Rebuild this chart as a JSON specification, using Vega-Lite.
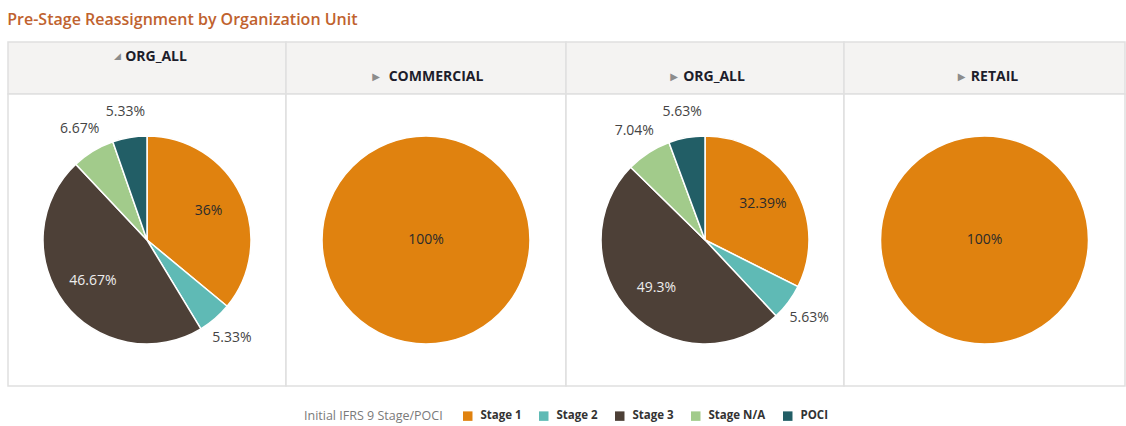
{
  "$schema": "https://vega.github.io/schema/vega-lite/v6.json",
  "padding": {"left": 7, "top": 12, "right": 0, "bottom": 0},
  "bounds": "flush",
  "background": "white",
  "title": {"text": "Pre-Stage Reassignment by Organization Unit", "anchor": "start", "font": "Open Sans", "fontSize": 16, "fontWeight": 600, "color": "#c0622e", "offset": 13},
  "datasets": {
    "pies": [
      {"panel": "p1", "stage": "Stage 1", "ord": 1, "share": 0.36},
      {"panel": "p1", "stage": "Stage 2", "ord": 2, "share": 0.0533},
      {"panel": "p1", "stage": "Stage 3", "ord": 3, "share": 0.4667},
      {"panel": "p1", "stage": "Stage N/A", "ord": 4, "share": 0.0667},
      {"panel": "p1", "stage": "POCI", "ord": 5, "share": 0.0533},
      {"panel": "p2", "stage": "Stage 1", "ord": 1, "share": 1},
      {"panel": "p3", "stage": "Stage 1", "ord": 1, "share": 0.3239},
      {"panel": "p3", "stage": "Stage 2", "ord": 2, "share": 0.0563},
      {"panel": "p3", "stage": "Stage 3", "ord": 3, "share": 0.493},
      {"panel": "p3", "stage": "Stage N/A", "ord": 4, "share": 0.0704},
      {"panel": "p3", "stage": "POCI", "ord": 5, "share": 0.0563},
      {"panel": "p4", "stage": "Stage 1", "ord": 1, "share": 1}
    ],
    "heads": [
      {"panel": "p1", "label": "ORG_ALL", "icon": "◢"},
      {"panel": "p2", "label": "COMMERCIAL", "icon": "▶"},
      {"panel": "p3", "label": "ORG_ALL", "icon": "▶"},
      {"panel": "p4", "label": "RETAIL", "icon": "▶"}
    ]
  },
  "columns": 4,
  "spacing": 0,
  "resolve": {"scale": {"color": "shared"}, "legend": {"color": "shared"}},
  "concat": [
    {
      "width": 278, "height": 52,
      "view": {"fill": "#f4f3f2", "stroke": "#e0e0e0", "strokeWidth": 1.5},
      "data": {"name": "heads"},
      "transform": [{"filter": "datum.panel == 'p1'"}],
      "layer": [
        {"mark": {"type": "text", "font": "Open Sans", "fontSize": 14, "fontWeight": "bold", "color": "#1d1d2b", "dx": 9, "dy": -11}, "encoding": {"text": {"field": "label"}}},
        {"mark": {"type": "text", "font": "DejaVu Sans", "fontSize": 9, "color": "#8c8c8c", "align": "right", "dx": -26, "dy": -12}, "encoding": {"text": {"field": "icon"}}}
      ]
    },
    {
      "width": 280, "height": 52,
      "view": {"fill": "#f4f3f2", "stroke": "#e0e0e0", "strokeWidth": 1.5},
      "data": {"name": "heads"},
      "transform": [{"filter": "datum.panel == 'p2'"}],
      "layer": [
        {"mark": {"type": "text", "font": "Open Sans", "fontSize": 14, "fontWeight": "bold", "color": "#1d1d2b", "dx": 10, "dy": 9}, "encoding": {"text": {"field": "label"}}},
        {"mark": {"type": "text", "font": "DejaVu Sans", "fontSize": 10, "color": "#8c8c8c", "align": "right", "dx": -46, "dy": 9}, "encoding": {"text": {"field": "icon"}}}
      ]
    },
    {
      "width": 278, "height": 52,
      "view": {"fill": "#f4f3f2", "stroke": "#e0e0e0", "strokeWidth": 1.5},
      "data": {"name": "heads"},
      "transform": [{"filter": "datum.panel == 'p3'"}],
      "layer": [
        {"mark": {"type": "text", "font": "Open Sans", "fontSize": 14, "fontWeight": "bold", "color": "#1d1d2b", "dx": 9, "dy": 9}, "encoding": {"text": {"field": "label"}}},
        {"mark": {"type": "text", "font": "DejaVu Sans", "fontSize": 10, "color": "#8c8c8c", "align": "right", "dx": -27, "dy": 9}, "encoding": {"text": {"field": "icon"}}}
      ]
    },
    {
      "width": 281, "height": 52,
      "view": {"fill": "#f4f3f2", "stroke": "#e0e0e0", "strokeWidth": 1.5},
      "data": {"name": "heads"},
      "transform": [{"filter": "datum.panel == 'p4'"}],
      "layer": [
        {"mark": {"type": "text", "font": "Open Sans", "fontSize": 14, "fontWeight": "bold", "color": "#1d1d2b", "dx": 10, "dy": 9}, "encoding": {"text": {"field": "label"}}},
        {"mark": {"type": "text", "font": "DejaVu Sans", "fontSize": 10, "color": "#8c8c8c", "align": "right", "dx": -19, "dy": 9}, "encoding": {"text": {"field": "icon"}}}
      ]
    },
    {
      "width": 278, "height": 292,
      "view": {"fill": "white", "stroke": "#e0e0e0", "strokeWidth": 1.5},
      "data": {"name": "pies"},
      "transform": [{"filter": "datum.panel == 'p1'"}],
      "encoding": {
        "theta": {"field": "share", "type": "quantitative", "stack": true},
        "order": {"field": "ord", "type": "ordinal"},
        "detail": {"field": "stage", "type": "nominal"}
      },
      "layer": [
        {"mark": {"type": "arc", "outerRadius": 104, "stroke": "white", "strokeWidth": 1.5},
         "encoding": {"color": {"field": "stage", "type": "nominal", "title": "Initial IFRS 9 Stage/POCI", "scale": {"domain": ["Stage 1", "Stage 2", "Stage 3", "Stage N/A", "POCI"], "range": ["#e0820f", "#5fbab5", "#4d4037", "#a2cb8b", "#225e66"]}}}},
        {"mark": {"type": "text", "radius": 68, "font": "Open Sans", "fontSize": 14},
         "encoding": {"text": {"field": "share", "type": "quantitative", "format": ".2~%", "condition": {"test": "datum.share < 0.1", "value": ""}},
                      "color": {"condition": {"test": "datum.stage == 'Stage 3'", "value": "#eeeeee"}, "value": "#2b2b2b"}}},
        {"mark": {"type": "text", "radius": 130, "font": "Open Sans", "fontSize": 14, "color": "#444444"},
         "encoding": {"text": {"field": "share", "type": "quantitative", "format": ".2~%", "condition": {"test": "datum.share >= 0.1", "value": ""}}}}
      ]
    },
    {
      "width": 280, "height": 292,
      "view": {"fill": "white", "stroke": "#e0e0e0", "strokeWidth": 1.5},
      "data": {"name": "pies"},
      "transform": [{"filter": "datum.panel == 'p2'"}],
      "layer": [
        {"mark": {"type": "arc", "outerRadius": 104, "stroke": "white", "strokeWidth": 1.5},
         "encoding": {"theta": {"field": "share", "type": "quantitative", "stack": true},
                      "color": {"field": "stage", "type": "nominal", "title": "Initial IFRS 9 Stage/POCI", "scale": {"domain": ["Stage 1", "Stage 2", "Stage 3", "Stage N/A", "POCI"], "range": ["#e0820f", "#5fbab5", "#4d4037", "#a2cb8b", "#225e66"]}}}},
        {"mark": {"type": "text", "font": "Open Sans", "fontSize": 14, "color": "#2b2b2b"},
         "encoding": {"text": {"field": "share", "type": "quantitative", "format": ".2~%"}}}
      ]
    },
    {
      "width": 278, "height": 292,
      "view": {"fill": "white", "stroke": "#e0e0e0", "strokeWidth": 1.5},
      "data": {"name": "pies"},
      "transform": [{"filter": "datum.panel == 'p3'"}],
      "encoding": {
        "theta": {"field": "share", "type": "quantitative", "stack": true},
        "order": {"field": "ord", "type": "ordinal"},
        "detail": {"field": "stage", "type": "nominal"}
      },
      "layer": [
        {"mark": {"type": "arc", "outerRadius": 104, "stroke": "white", "strokeWidth": 1.5},
         "encoding": {"color": {"field": "stage", "type": "nominal", "title": "Initial IFRS 9 Stage/POCI", "scale": {"domain": ["Stage 1", "Stage 2", "Stage 3", "Stage N/A", "POCI"], "range": ["#e0820f", "#5fbab5", "#4d4037", "#a2cb8b", "#225e66"]}}}},
        {"mark": {"type": "text", "radius": 68, "font": "Open Sans", "fontSize": 14},
         "encoding": {"text": {"field": "share", "type": "quantitative", "format": ".2~%", "condition": {"test": "datum.share < 0.1", "value": ""}},
                      "color": {"condition": {"test": "datum.stage == 'Stage 3'", "value": "#eeeeee"}, "value": "#2b2b2b"}}},
        {"mark": {"type": "text", "radius": 130, "font": "Open Sans", "fontSize": 14, "color": "#444444"},
         "encoding": {"text": {"field": "share", "type": "quantitative", "format": ".2~%", "condition": {"test": "datum.share >= 0.1", "value": ""}}}}
      ]
    },
    {
      "width": 281, "height": 292,
      "view": {"fill": "white", "stroke": "#e0e0e0", "strokeWidth": 1.5},
      "data": {"name": "pies"},
      "transform": [{"filter": "datum.panel == 'p4'"}],
      "layer": [
        {"mark": {"type": "arc", "outerRadius": 104, "stroke": "white", "strokeWidth": 1.5},
         "encoding": {"theta": {"field": "share", "type": "quantitative", "stack": true},
                      "color": {"field": "stage", "type": "nominal", "title": "Initial IFRS 9 Stage/POCI", "scale": {"domain": ["Stage 1", "Stage 2", "Stage 3", "Stage N/A", "POCI"], "range": ["#e0820f", "#5fbab5", "#4d4037", "#a2cb8b", "#225e66"]}}}},
        {"mark": {"type": "text", "font": "Open Sans", "fontSize": 14, "color": "#2b2b2b"},
         "encoding": {"text": {"field": "share", "type": "quantitative", "format": ".2~%"}}}
      ]
    }
  ],
  "config": {
    "legend": {
      "orient": "bottom",
      "direction": "horizontal",
      "titleOrient": "left",
      "titleFont": "Open Sans",
      "titleFontSize": 12.5,
      "titleFontWeight": "normal",
      "titleColor": "#7a7a7a",
      "titlePadding": 19,
      "titleLimit": 400,
      "labelFont": "Open Sans",
      "labelFontSize": 11.5,
      "labelFontWeight": "bold",
      "labelColor": "#333333",
      "labelOffset": 7,
      "symbolType": "square",
      "symbolSize": 90,
      "symbolStrokeWidth": 0,
      "columnPadding": 16,
      "offset": 23,
      "layout": {"bottom": {"anchor": "middle"}}
    }
  }
}
